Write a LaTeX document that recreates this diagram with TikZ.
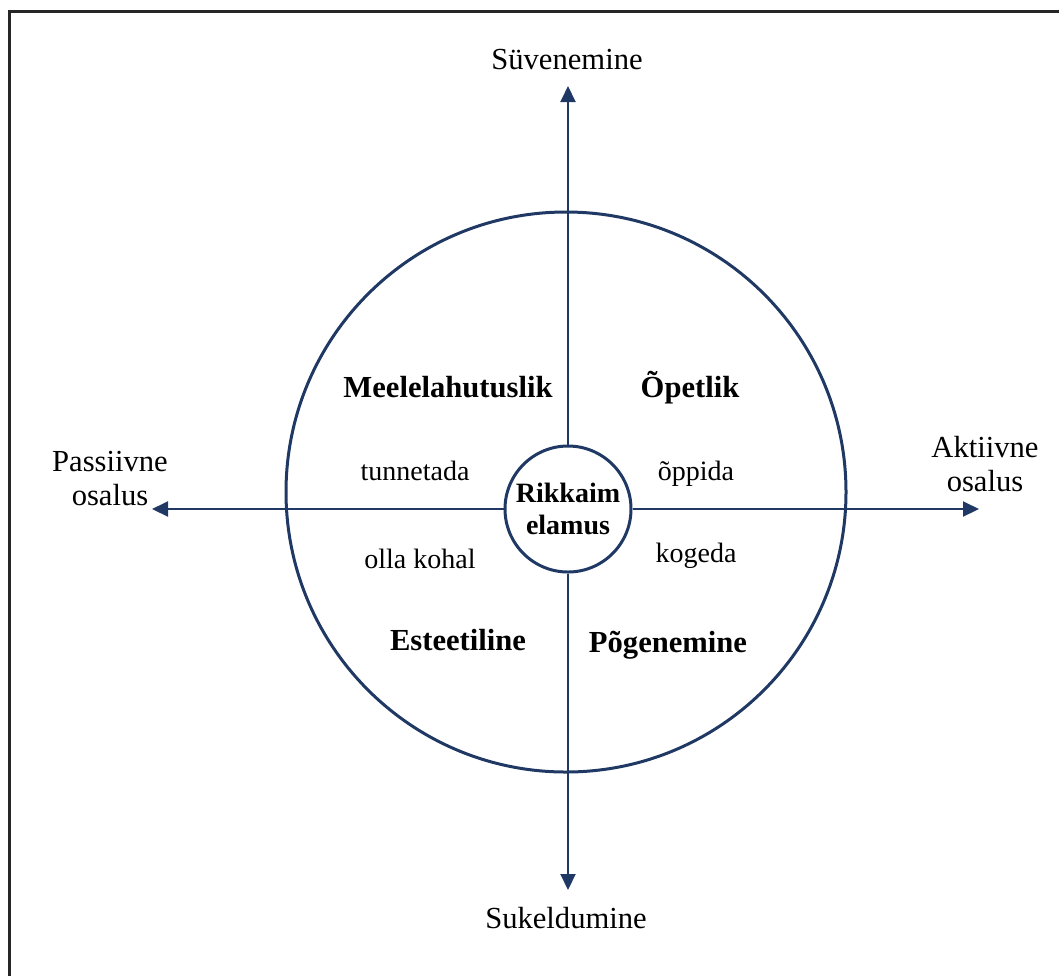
\documentclass[tikz,border=0pt]{standalone}
\usepackage{fontspec}
\setmainfont{Liberation Serif}
\usetikzlibrary{arrows.meta}
\definecolor{navy}{RGB}{31,56,100}

\begin{document}
\begin{tikzpicture}[x=0.5pt,y=-0.5pt,
  axis/.style={line width=1pt,navy,-{Triangle[length=8pt,width=7.5pt]}},
  big/.style={font=\fontsize{15.3}{17}\selectfont,align=center},
  small/.style={font=\fontsize{14}{16}\selectfont},
  quad/.style={font=\fontsize{15.3}{17}\selectfont\bfseries}]
 \useasboundingbox (0,0) rectangle (1059,976);
 \draw[line width=1.5pt,black!85] (9,976) -- (9,11) -- (1059,11);

 \draw[line width=1.5pt,navy] (566,492) circle (280);
 \node[circle,draw=navy,line width=1.5pt,minimum size=63pt,inner sep=0pt,
   align=center,font=\fontsize{14}{16}\selectfont\bfseries] (rich) at (568,509) {Rikkaim\\elamus};

 \coordinate (up) at (568,86);
 \coordinate (down) at (568,890);
 \coordinate (left) at (152,509);
 \coordinate (right) at (979,509);
 \draw[axis] (rich.north) -- (up);
 \draw[axis] (rich.south) -- (down);
 \draw[axis] (rich.west) -- (left);
 \draw[axis] (rich.east) -- (right);

 \node[big] (deep) at (567,60) {Süvenemine};
 \node[big] (dive) at (566,918) {Sukeldumine};
 \node[big] (passive) at (110,479) {Passiivne\\osalus};
 \node[big] (active) at (985,464) {Aktiivne\\osalus};

 \node[quad] (fun) at (448,387) {Meelelahutuslik};
 \node[quad] (edu) at (690,388) {Õpetlik};
 \node[quad] (esth) at (458,640) {Esteetiline};
 \node[quad] (esc) at (668,645) {Põgenemine};

 \node[small] (feel) at (415,471) {tunnetada};
 \node[small] (learn) at (696,474) {õppida};
 \node[small] (be) at (420,559) {olla kohal};
 \node[small] (live) at (696,556) {kogeda};
\end{tikzpicture}
\end{document}
